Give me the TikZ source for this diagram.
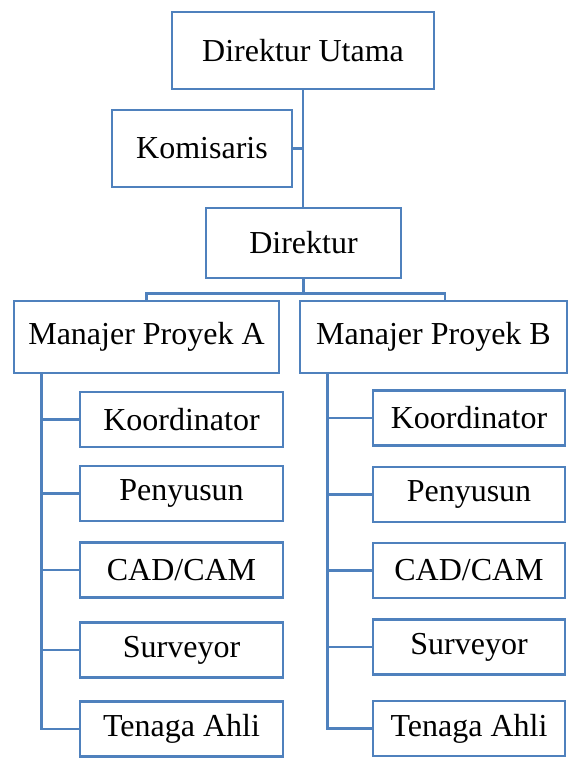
\documentclass[tikz,border=0pt]{standalone}
\usepackage{fontspec}
\setmainfont{Liberation Serif}
\usetikzlibrary{positioning}
\definecolor{orgblue}{HTML}{4F81BD}

\begin{document}
\begin{tikzpicture}[x=1pt, y=-1pt]

\tikzstyle{unit} = [
    draw = orgblue,
    line width = 2.6pt,
    fill = white,
    inner sep = 0pt,
    minimum height = 77pt,
    font = \fontsize{32}{38}\selectfont
]
\tikzstyle{staff} = [unit, minimum height = 55pt]
\tikzstyle{link} = [draw = orgblue, line width = 2.6pt]

\useasboundingbox (0,0) rectangle (579,763);

% top of the chart
\node [unit, minimum width = 262pt] (dirut) at (303,50.5) {Direktur Utama};
\node [unit, minimum width = 180pt] (kom) at (202,148.5) {Komisaris};
\node [unit, minimum width = 195pt, minimum height = 70pt] (dir) at (303.5,243) {Direktur};
\node [unit, minimum width = 265pt, minimum height = 72pt] (pmA) at (146.5,337) {Manajer Proyek A};
\node [unit, minimum width = 267pt, minimum height = 72pt] (pmB) at (433.5,337) {Manajer Proyek B};

% staff under each project manager
\foreach \nm/\txt/\ya/\yb in {koord/Koordinator/419.5/418,
        penyusun/Penyusun/493.5/494.5,
        cad/CAD\slash CAM/570/570.5,
        survey/Surveyor/650/647,
        ahli/Tenaga Ahli/729/728.5} {
    \node [staff, minimum width = 203pt] (\nm A) at (181.5,\ya) {\txt};
    \node [staff, minimum width = 192pt] (\nm B) at (469,\yb) {\txt};
}

% connectors
\draw [link] (dirut.south) -- (dirut.south |- dir.north);
\draw [link] (kom.east) -- (kom.east -| dirut.south);
\draw [link] (dir.south) -- ++(0,14) coordinate (fork);
\draw [link] (pmA.north) |- (fork) -| ([xshift=11.5pt]pmB.north);

\coordinate (spineA) at ([xshift=28.5pt]pmA.south west);
\coordinate (spineB) at ([xshift=29pt]pmB.south west);
\draw [link] (spineA) |- (ahliA.west);
\draw [link] (spineB) |- (ahliB.west);
\foreach \nm in {koord,penyusun,cad,survey} {
    \draw [link] (spineA |- \nm A.west) -- (\nm A.west);
    \draw [link] (spineB |- \nm B.west) -- (\nm B.west);
}
\end{tikzpicture}
\end{document}
